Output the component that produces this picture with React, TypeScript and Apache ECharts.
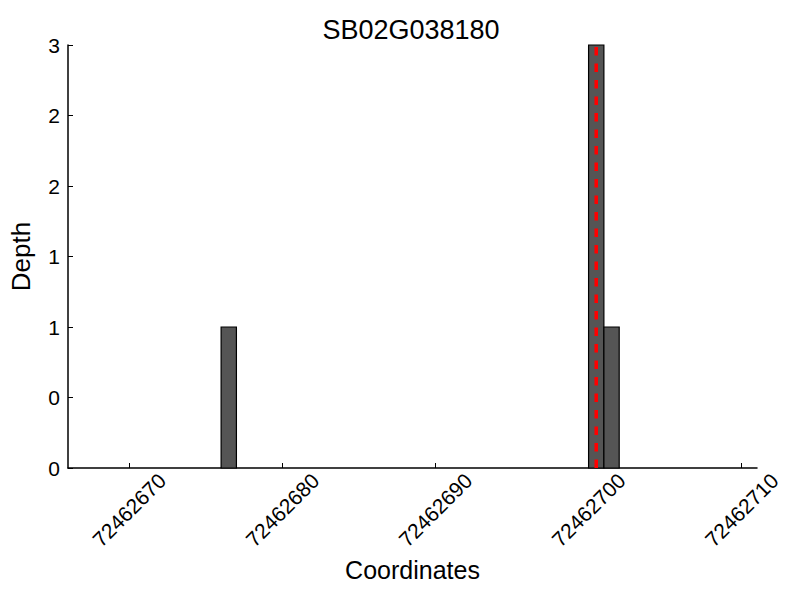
import React, { useEffect, useRef } from "react";
import * as echarts from "echarts";

const title = "SB02G038180";
const binStarts = [72462676, 72462700, 72462701];
const binDepths = [1, 3, 1];
const binWidth = 1;
const markerPos = 72462700.5;
const xTicks = [72462670, 72462680, 72462690, 72462700, 72462710];
const xMin = 72462666;
const xMax = 72462711;
const yMin = 0;
const yMax = 3;
const yStep = 0.5;

const FONT = "Liberation Sans";

export default function App() {
  const ref = useRef<HTMLDivElement>(null);
  useEffect(() => {
    if (!ref.current) return;
    const chart = echarts.init(ref.current, null, { renderer: "svg" });
    const barData = binStarts.map((s, i) => [s, s + binWidth, binDepths[i]]);
    chart.setOption({
      animation: false,
      backgroundColor: "#ffffff",
      textStyle: { fontFamily: FONT },
      title: {
        text: title,
        left: 406,
        textAlign: "center",
        top: 11,
        textStyle: { fontFamily: FONT, fontSize: 27, fontWeight: "normal", color: "#000" },
      },
      grid: { left: 65, right: 43, top: 45, bottom: 132, containLabel: false },
      xAxis: {
        type: "value",
        min: xMin,
        max: xMax,
        name: "Coordinates",
        nameLocation: "middle",
        nameGap: 82,
        nameTextStyle: { fontFamily: FONT, fontSize: 25, color: "#000" },
        axisLine: { show: true, onZero: false, lineStyle: { color: "#000", width: 1.5 } },
        axisTick: { show: true, inside: true, length: 5, customValues: xTicks, lineStyle: { color: "#000", width: 1 } },
        splitLine: { show: false },
        axisLabel: {
          customValues: xTicks,
          rotate: 45,
          align: "center",
          verticalAlign: "middle",
          margin: 42,
          fontFamily: FONT,
          fontSize: 21,
          color: "#000",
          formatter: (v: number) => String(Math.round(v)),
        },
      },
      yAxis: {
        type: "value",
        min: yMin,
        max: yMax,
        interval: yStep,
        name: "Depth",
        nameLocation: "middle",
        nameGap: 34,
        nameTextStyle: { fontFamily: FONT, fontSize: 26, color: "#000" },
        axisLine: { show: true, lineStyle: { color: "#000", width: 1.5 } },
        axisTick: { show: true, inside: true, length: 5, lineStyle: { color: "#000", width: 1 } },
        splitLine: { show: false },
        axisLabel: {
          margin: 8,
          fontFamily: FONT,
          fontSize: 21,
          color: "#000",
          formatter: (v: number) => String(Math.floor(v)),
        },
      },
      series: [
        {
          type: "custom",
          data: barData,
          encode: { x: [0, 1], y: 2 },
          renderItem: (params: any, api: any) => {
            const p0 = api.coord([api.value(0), api.value(2)]);
            const p1 = api.coord([api.value(1), 0]);
            return {
              type: "rect",
              shape: { x: p0[0], y: p0[1], width: p1[0] - p0[0], height: p1[1] - p0[1] },
              style: { fill: "#555555", stroke: "#000000", lineWidth: 1.2 },
            };
          },
          z: 2,
        },
        {
          type: "line",
          data: [
            [markerPos, yMin],
            [markerPos, yMax],
          ],
          symbol: "none",
          lineStyle: { color: "#ff0000", width: 3.5, type: [8.5, 8] },
          z: 3,
        },
      ],
    });
    return () => chart.dispose();
  }, []);
  return <div ref={ref} style={{ width: 800, height: 600, position: "absolute", left: 0, top: 0 }} />;
}
